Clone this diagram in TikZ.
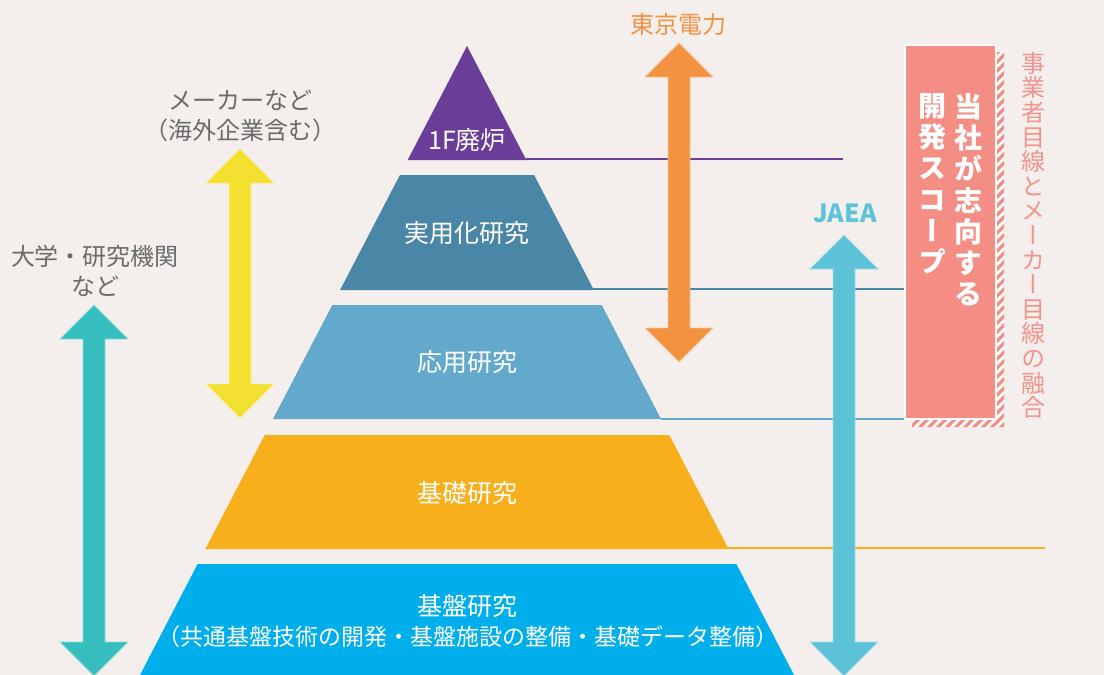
\documentclass[tikz,border=0pt]{standalone}
\usepackage{fontspec}
\usepackage{graphicx}
\setmainfont{Noto Sans CJK JP}
\newfontfamily\vfont[RawFeature=+vert]{Noto Sans CJK JP}
\definecolor{bg}{HTML}{F4EFEC}
\definecolor{cpurple}{HTML}{6A3E98}
\definecolor{cl2}{HTML}{4A86A6}
\definecolor{cl3}{HTML}{63A9CC}
\definecolor{cl4}{HTML}{F8AF1C}
\definecolor{cl5}{HTML}{00AEEC}
\definecolor{corange}{HTML}{F39241}
\definecolor{cyellow}{HTML}{F3E030}
\definecolor{cteal}{HTML}{36BDBE}
\definecolor{cltblue}{HTML}{5CC3D9}
\definecolor{cpink}{HTML}{F48E84}
\definecolor{cpinktext}{HTML}{F2948B}
\definecolor{cgray}{HTML}{6B6B6B}
\newcommand{\myvarrow}[4]{%
  \filldraw[fill=#1, draw=#1!55!white, line width=0.8]
    (#2,#3) -- (#2+34,#3+34) -- (#2+11,#3+34) -- (#2+11,#4-34) -- (#2+34,#4-34)
    -- (#2,#4) -- (#2-34,#4-34) -- (#2-11,#4-34) -- (#2-11,#3+34) -- (#2-34,#3+34) -- cycle;}
\begin{document}
\begin{tikzpicture}[x=1pt,y=-1pt,
  laytext/.style={text=white, font=\fontsize{25}{30}\selectfont, inner sep=0pt, align=center},
  graytext/.style={text=cgray, font=\fontsize{24}{30}\selectfont, inner sep=0pt, align=center},
  levelline/.style={line width=2}]
\fill[bg] (0,0) rectangle (1104,675);
\useasboundingbox (0,0) rectangle (1104,675);

% level lines
\draw[levelline, cpurple] (526,159) -- (843,159);
\draw[levelline, cl2] (593,289) -- (905,289);
\draw[levelline, cl3] (661,418.5) -- (905,418.5);
\draw[levelline, cl4] (728,548) -- (1045,548);

% pyramid layers
\fill[cpurple] (467,46) -- (526.3,160) -- (407.7,160) -- cycle;
\fill[cl2] (399.9,175) -- (534.1,175) -- (593.9,290) -- (340.1,290) -- cycle;
\fill[cl3] (332.3,305) -- (601.7,305) -- (661,419) -- (273,419) -- cycle;
\fill[cl4] (264.7,435) -- (669.3,435) -- (728.6,549) -- (205.4,549) -- cycle;
\fill[cl5] (197.6,564) -- (736.4,564) -- (794,675) -- (140,675) -- cycle;

\node[laytext] (t1) at (467,140) {1F廃炉};
\node[laytext] (t2) at (467,233) {実用化研究};
\node[laytext] (t3) at (467,362) {応用研究};
\node[laytext] (t4) at (467,493) {基礎研究};
\node[laytext] (t5) at (467,606) {基盤研究};
\node[laytext, font=\fontsize{23}{26}\selectfont] (t5b) at (468,637) {（共通基盤技術の開発・基盤施設の整備・基礎データ整備）};

% arrows
\myvarrow{corange}{679}{43}{362}
\myvarrow{cyellow}{240}{149}{418}
\myvarrow{cteal}{94}{305}{676}
\myvarrow{cltblue}{844}{235}{676}

% arrow labels
\node[text=corange, font=\fontsize{24}{28}\selectfont, inner sep=0pt] (lab1) at (678,24) {東京電力};
\node[graytext] (lab2) at (240,100) {メーカーなど};
\node[graytext] (lab2b) at (240,130) {（海外企業含む）};
\node[graytext] (lab3) at (95,256) {大学・研究機関};
\node[graytext] (lab3b) at (95,286) {など};
\node[text=cltblue, font=\bfseries\fontsize{25}{28}\selectfont, inner sep=0pt] (lab4) at (845,213) {JAEA};

% hatched shadow
\begin{scope}
\clip (996,52) -- (1004,52) -- (1004,427) -- (912,427) -- (912,419) -- (996,419) -- cycle;
\fill[white] (900,40) rectangle (1010,430);
\foreach \i in {0,...,56} {
  \draw[cpink, line width=3.2] (520+9*\i,440) -- (920+9*\i,40);
}
\end{scope}

% scope box
\filldraw[fill=cpink, draw=white, line width=2] (905,45) rectangle (996,419);
\node[text=white, font=\vfont\bfseries\fontsize{28}{31.3}\selectfont, inner sep=0pt, align=center, anchor=north] (v1) at (968,93) {当\\社\\が\\志\\向\\す\\る};
\node[text=white, font=\vfont\bfseries\fontsize{28}{31.3}\selectfont, inner sep=0pt, align=center, anchor=north] (v2) at (932,93) {開\\発\\ス\\コ\\ー\\プ};
\node[text=cpinktext, font=\vfont\fontsize{24}{24.6}\selectfont, inner sep=0pt, align=center, anchor=north] (v3) at (1033,52) {事\\業\\者\\目\\線\\と\\メ\\ー\\カ\\ー\\目\\線\\の\\融\\合};
\end{tikzpicture}
\end{document}
